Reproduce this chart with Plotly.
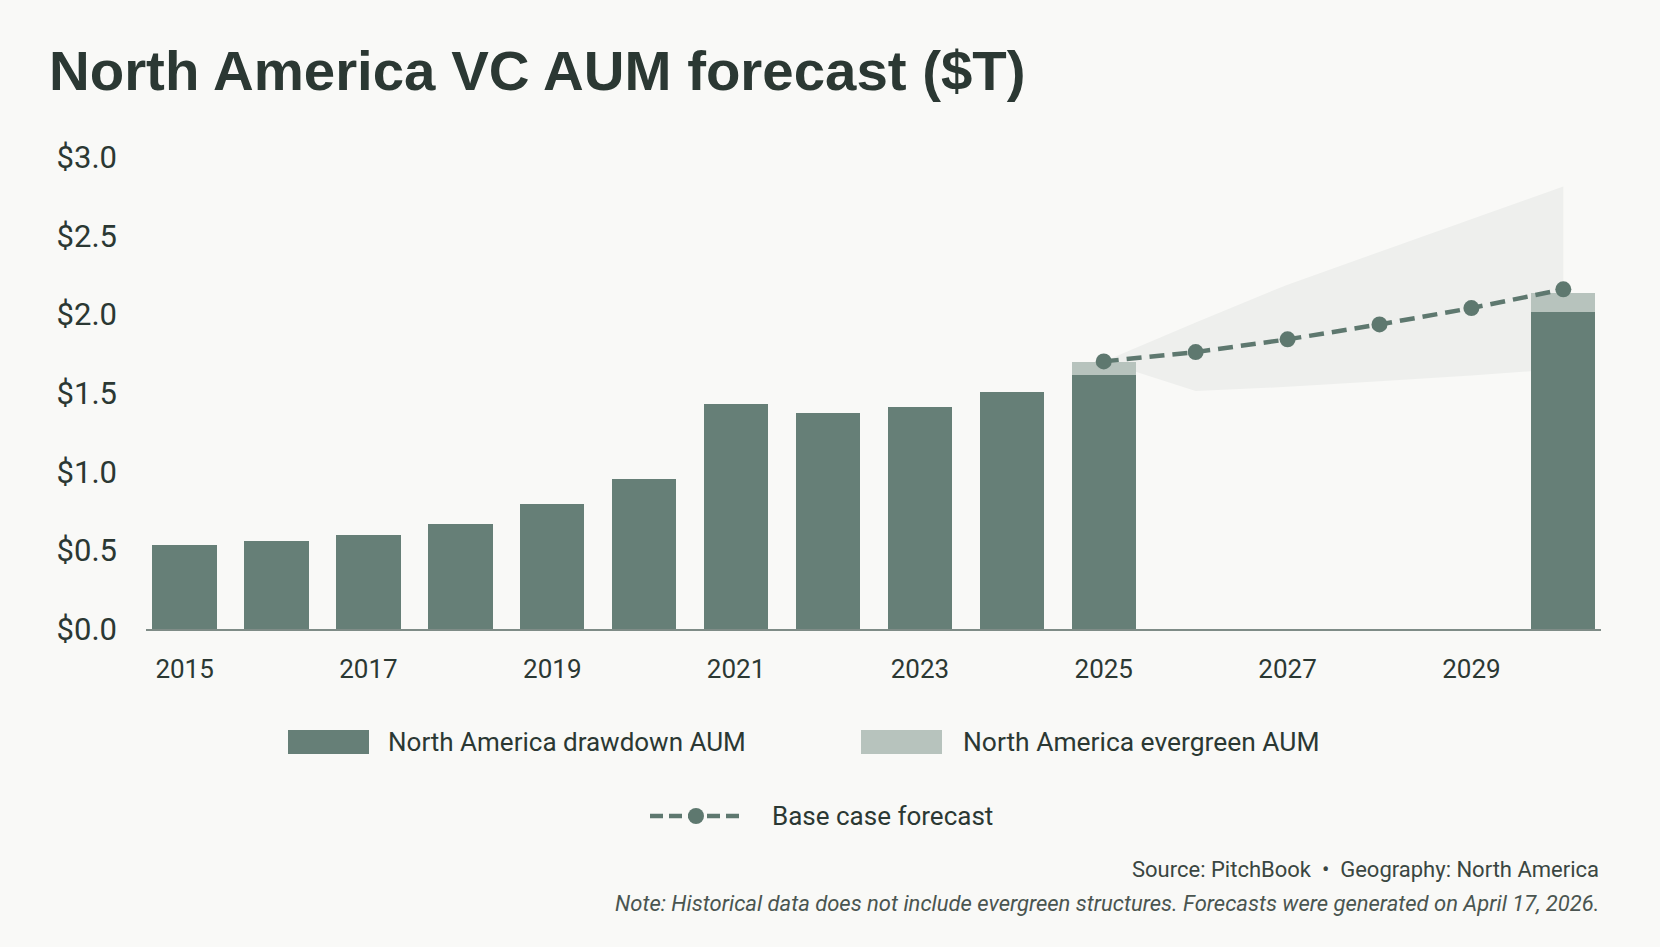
import plotly.graph_objects as go

# ---------------- data ----------------
years = [2015, 2016, 2017, 2018, 2019, 2020, 2021, 2022, 2023, 2024, 2025, 2030]
drawdown_aum = [0.536, 0.557, 0.599, 0.669, 0.792, 0.957, 1.428, 1.375, 1.413, 1.506, 1.615, 2.015]
evergreen_years = [2025, 2030]
evergreen_aum = [0.085, 0.120]

forecast_years = [2025, 2026, 2027, 2028, 2029, 2030]
base_case = [1.702, 1.761, 1.842, 1.937, 2.041, 2.160]
band_upper = [1.702, 1.950, 2.190, 2.400, 2.610, 2.815]
band_lower = [1.702, 1.513, 1.540, 1.575, 1.612, 1.655]

y_tickvals = [0.0, 0.5, 1.0, 1.5, 2.0, 2.5, 3.0]
y_ticktext = ["$0.0", "$0.5", "$1.0", "$1.5", "$2.0", "$2.5", "$3.0"]
x_tickvals = [2015, 2017, 2019, 2021, 2023, 2025, 2027, 2029]

title_text = "North America VC AUM forecast ($T)"
legend_labels = ["North America drawdown AUM", "North America evergreen AUM", "Base case forecast"]
source_text = "Source: PitchBook  \u2022  Geography: North America"
note_text = "Note: Historical data does not include evergreen structures. Forecasts were generated on April 17, 2026."

# ---------------- style ----------------
BG = "#f9f9f7"
DARK = "#667f77"
LIGHT = "#b7c3bd"
LINE = "#5e786f"
BAND = "#eeefed"
TEXT = "#2b3833"

W, H = 1660, 947
ML, MR, MT, MB = 146, 59, 151, 318
PW, PH = W - ML - MR, H - MT - MB


def px(X):
    return (X - ML) / PW


def py(Y):
    return (H - MB - Y) / PH


fig = go.Figure()

# uncertainty band on the base axes (drawn below the bars)
fig.add_trace(go.Scatter(
    x=forecast_years + forecast_years[::-1],
    y=band_upper + band_lower[::-1],
    fill="toself", fillcolor=BAND, mode="lines",
    line=dict(width=0, color=BAND), hoverinfo="skip",
    showlegend=False, xaxis="x", yaxis="y",
))

# bars + forecast on overlaying axes (drawn above the band)
fig.add_trace(go.Bar(
    x=years, y=drawdown_aum, name=legend_labels[0], marker=dict(color=DARK, line=dict(width=0)),
    width=0.70, showlegend=False, xaxis="x2", yaxis="y2",
))
fig.add_trace(go.Bar(
    x=evergreen_years, y=evergreen_aum, name=legend_labels[1], marker=dict(color=LIGHT, line=dict(width=0)),
    width=0.70, showlegend=False, xaxis="x2", yaxis="y2",
))
fig.add_trace(go.Scatter(
    x=forecast_years, y=base_case, name=legend_labels[2], mode="lines+markers",
    line=dict(color=LINE, width=4.5, dash="15px,8px"),
    marker=dict(size=16, color=LINE),
    showlegend=False, xaxis="x2", yaxis="y2",
))

xr = [2014.58, 2030.41]
yr = [0, 3.04]

fig.update_layout(
    width=W, height=H,
    paper_bgcolor=BG, plot_bgcolor=BG,
    margin=dict(l=ML, r=MR, t=MT, b=MB),
    barmode="stack",
    showlegend=False,
    xaxis=dict(range=xr, tickvals=x_tickvals, ticktext=[str(v) for v in x_tickvals],
               showgrid=False, zeroline=False, showline=True, linecolor="#7f8c87", linewidth=2,
               ticks="", ticklabelstandoff=16,
               tickfont=dict(family="Roboto, sans-serif", size=26, color=TEXT)),
    yaxis=dict(range=yr, tickvals=y_tickvals, ticktext=y_ticktext,
               showgrid=False, zeroline=False, showline=False, ticks="",
               ticklabelstandoff=28,
               tickfont=dict(family="Roboto, sans-serif", size=31, color=TEXT)),
    xaxis2=dict(range=xr, overlaying="x", visible=False),
    yaxis2=dict(range=yr, overlaying="y", visible=False),
    bargap=0.3,
)

annotations = [
    dict(text="<b>" + title_text + "</b>", x=px(47), y=py(70), xref="paper", yref="paper",
         xanchor="left", yanchor="middle", showarrow=False,
         font=dict(family="Liberation Sans, Arial, sans-serif", size=56.4, color=TEXT)),
    dict(text=legend_labels[0], x=px(386), y=py(742), xref="paper", yref="paper",
         xanchor="left", yanchor="middle", showarrow=False,
         font=dict(family="Roboto, sans-serif", size=26, color=TEXT)),
    dict(text=legend_labels[1], x=px(961), y=py(742), xref="paper", yref="paper",
         xanchor="left", yanchor="middle", showarrow=False,
         font=dict(family="Roboto, sans-serif", size=26.4, color=TEXT)),
    dict(text=legend_labels[2], x=px(770), y=py(816), xref="paper", yref="paper",
         xanchor="left", yanchor="middle", showarrow=False,
         font=dict(family="Roboto, sans-serif", size=26, color=TEXT)),
    dict(text=source_text, x=px(1601), y=py(869), xref="paper", yref="paper",
         xanchor="right", yanchor="middle", showarrow=False,
         font=dict(family="Roboto, sans-serif", size=22, color="#3a4641")),
    dict(text="<i>" + note_text + "</i>", x=px(1601), y=py(903), xref="paper", yref="paper",
         xanchor="right", yanchor="middle", showarrow=False,
         font=dict(family="Roboto, sans-serif", size=22, color="#4a5550")),
]
fig.update_layout(annotations=annotations)

shapes = [
    dict(type="rect", xref="paper", yref="paper", x0=px(288), x1=px(369), y0=py(754), y1=py(730),
         fillcolor=DARK, line=dict(width=0)),
    dict(type="rect", xref="paper", yref="paper", x0=px(861), x1=px(942), y0=py(754), y1=py(730),
         fillcolor=LIGHT, line=dict(width=0)),
    dict(type="line", xref="paper", yref="paper", x0=px(650), x1=px(745), y0=py(816), y1=py(816),
         line=dict(color=LINE, width=4.5, dash="13px,6px")),
    dict(type="circle", xref="paper", yref="paper", x0=px(688), x1=px(704), y0=py(824), y1=py(808),
         fillcolor=LINE, line=dict(width=0)),
]
fig.update_layout(shapes=shapes)

fig.write_html("out.html")
